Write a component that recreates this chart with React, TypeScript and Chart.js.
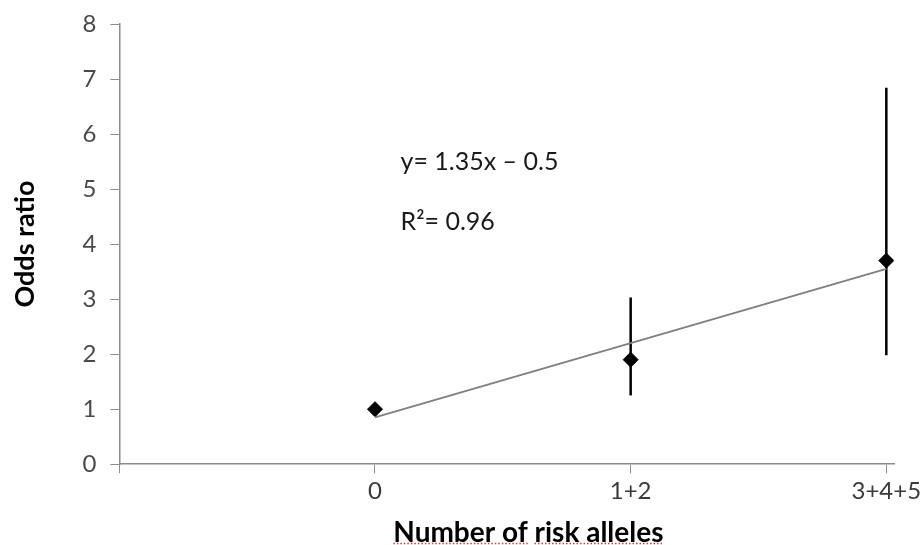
import React, { useEffect, useRef } from "react";
import { Chart, registerables } from "chart.js";

Chart.register(...registerables);

// Category labels at x = 0,1,2,3 (first position is the axis itself)
const xLabels = ["", "0", "1+2", "3+4+5"];
const xPositions = [1, 2, 3];
const oddsRatio = [1.0, 1.9, 3.7];
const ciLow: (number | null)[] = [null, 1.25, 1.98];
const ciHigh: (number | null)[] = [null, 3.03, 6.84];
const trendX = [1, 3];
const trendY = [0.85, 3.55];
const yTickValues = [0, 1, 2, 3, 4, 5, 6, 7, 8];
const equationText = "y= 1.35x \u2013 0.5";
const r2Text = "R\u00B2= 0.96";
const xTitle = "Number of risk alleles";
const yTitle = "Odds ratio";

const FONT = "Lato, 'Open Sans', sans-serif";

const overlay = {
  id: "overlay",
  beforeDatasetsDraw(chart: any) {
    const { ctx, scales } = chart;
    const xs = scales.x;
    const ys = scales.y;
    ctx.save();
    ctx.strokeStyle = "#000";
    ctx.lineWidth = 2.5;
    for (let i = 0; i < xPositions.length; i++) {
      const lo = ciLow[i];
      const hi = ciHigh[i];
      if (lo == null || hi == null) continue;
      const px = xs.getPixelForValue(xPositions[i]);
      ctx.beginPath();
      ctx.moveTo(px, ys.getPixelForValue(lo));
      ctx.lineTo(px, ys.getPixelForValue(hi));
      ctx.stroke();
    }
    ctx.restore();
  },
  afterDraw(chart: any) {
    const { ctx, scales } = chart;
    const xs = scales.x;
    const ys = scales.y;
    ctx.save();
    // annotation
    ctx.fillStyle = "#1a1a1a";
    ctx.font = `25px ${FONT}`;
    ctx.textAlign = "left";
    ctx.textBaseline = "alphabetic";
    const ax = xs.getPixelForValue(1.1);
    ctx.fillText(equationText, ax, ys.getPixelForValue(5.35));
    ctx.fillText(r2Text, ax, ys.getPixelForValue(4.25));
    // x title
    ctx.font = `bold 28px ${FONT}`;
    ctx.fillStyle = "#000";
    ctx.textAlign = "center";
    ctx.textBaseline = "middle";
    const tx = xs.getPixelForValue(1.6);
    const ty = chart.height - 12;
    ctx.fillText(xTitle, tx, ty);
    // spell-check dotted underline
    const full = ctx.measureText(xTitle).width;
    const left = tx - full / 2;
    const w1 = ctx.measureText("Number of").width;
    const wPre = ctx.measureText("Number of ").width;
    const wRest = ctx.measureText("risk alleles").width;
    const uy = chart.height - 1.5;
    ctx.strokeStyle = "#e03030";
    ctx.lineWidth = 1.5;
    ctx.setLineDash([1.5, 2]);
    ctx.beginPath();
    ctx.moveTo(left, uy);
    ctx.lineTo(left + w1, uy);
    ctx.moveTo(left + wPre, uy);
    ctx.lineTo(left + wPre + wRest, uy);
    ctx.stroke();
    ctx.restore();
  },
};

export default function App() {
  const ref = useRef<HTMLCanvasElement | null>(null);
  useEffect(() => {
    if (!ref.current) return;
    const chart = new Chart(ref.current, {
      type: "scatter",
      data: {
        datasets: [
          {
            type: "line",
            label: "trend",
            data: trendX.map((x, i) => ({ x, y: trendY[i] })),
            borderColor: "#7f7f7f",
            borderWidth: 1.8,
            pointRadius: 0,
            showLine: true,
            fill: false,
          } as any,
          {
            label: "Odds ratio",
            data: xPositions.map((x, i) => ({ x, y: oddsRatio[i] })),
            pointStyle: "rectRot",
            pointRadius: 7.5,
            backgroundColor: "#000",
            borderColor: "#000",
            borderWidth: 1,
          },
        ],
      },
      options: {
        responsive: false,
        animation: false,
        layout: { padding: { top: 24, left: 9, right: 27, bottom: 35 } },
        plugins: { legend: { display: false }, tooltip: { enabled: false } },
        scales: {
          x: {
            type: "linear",
            min: 0,
            max: 3.03,
            afterBuildTicks: (scale: any) => {
              scale.ticks = xLabels.map((_, i) => ({ value: i }));
            },
            afterFit: (scale: any) => {
              scale.paddingRight = 0;
            },
            ticks: {
              callback: (v: any) => xLabels[Math.round(Number(v))] ?? "",
              color: "#3a3a3a",
              font: { size: 24, family: FONT },
              padding: 4,
              maxRotation: 0,
              autoSkip: false,
            },
            grid: {
              drawOnChartArea: false,
              drawTicks: true,
              tickLength: 9,
              color: "#8c8c8c",
            },
            border: { color: "#8c8c8c", width: 1.5 },
          },
          y: {
            type: "linear",
            min: 0,
            max: 8,
            afterBuildTicks: (scale: any) => {
              scale.ticks = yTickValues.map((v) => ({ value: v }));
            },
            afterFit: (scale: any) => {
              scale.paddingTop = 0;
              scale.paddingBottom = 0;
            },
            ticks: {
              color: "#4a4a4a",
              font: { size: 24, family: FONT },
              padding: 14,
            },
            grid: {
              drawOnChartArea: false,
              drawTicks: true,
              tickLength: 9,
              color: "#8c8c8c",
            },
            border: { color: "#8c8c8c", width: 1.5 },
            title: {
              display: true,
              text: yTitle,
              color: "#000",
              font: { size: 27, weight: "bold", family: FONT },
              padding: { top: 0, bottom: 27 },
            },
          },
        },
      } as any,
      plugins: [overlay],
    });
    return () => chart.destroy();
  }, []);
  return (
    <div style={{ position: "absolute", left: 0, top: 0, width: 921, height: 545, background: "#fff" }}>
      <canvas ref={ref} width={921} height={545} />
    </div>
  );
}
